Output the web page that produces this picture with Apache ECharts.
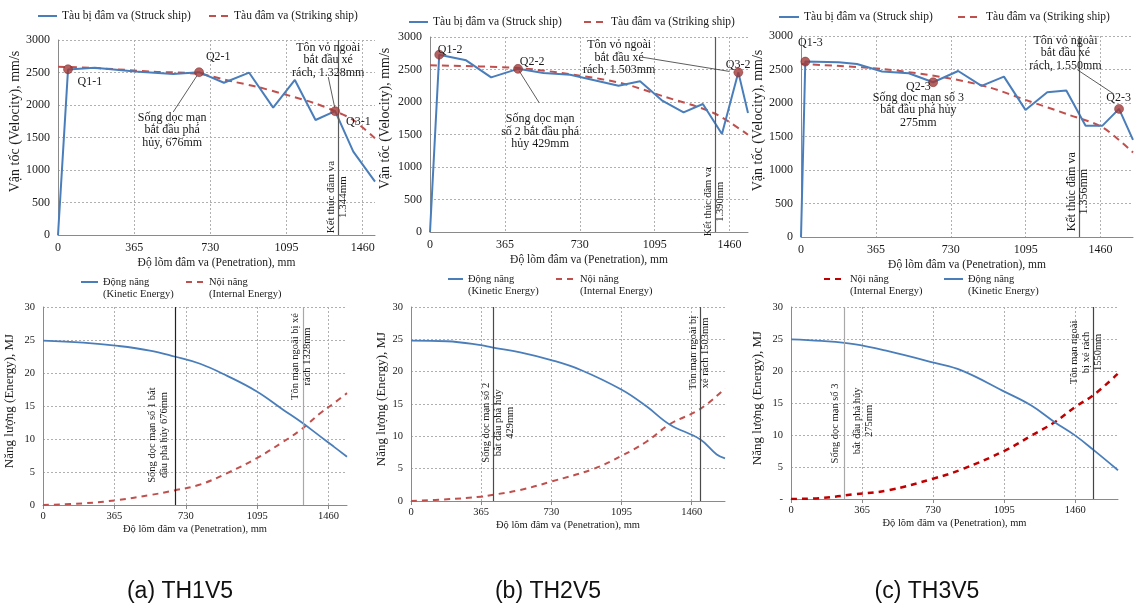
<!DOCTYPE html>
<html>
<head>
<meta charset="utf-8">
<script src="https://cdn.jsdelivr.net/npm/echarts/dist/echarts.min.js"></script>
<style>
  html, body { margin: 0; padding: 0; background: #fff; }
  #chart { width: 1134px; height: 610px; }
</style>
</head>
<body>
<div id="chart"></div>
<script>
// ---------------- data ----------------
// Penetration tick labels (mm)
const penetrationTicks = [0, 365, 730, 1095, 1460];

// Velocity (mm/s) vs penetration (mm): struck ship and striking ship
const struckTH1 = [[0,0],[48,2545],[176,2574],[370,2515],[552,2477],[676,2505],[795,2343],[916,2497],[1031,1959],[1135,2385],[1234,1769],[1328,1905],[1415,1282],[1519,820]];
const strikingTH1 = [[0,2590],[200,2564],[456,2513],[676,2477],[840,2359],[951,2282],[1079,2170],[1223,2035],[1328,1905],[1415,1769],[1519,1487]];
const keyPointsTH1 = [[48,2550],[676,2505],[1328,1905]];

const struckTH2 = [[0,0],[45,2728],[176,2641],[298,2379],[429,2510],[553,2446],[683,2420],[919,2251],[1024,2318],[1130,2026],[1236,1841],[1330,1969],[1423,1508],[1503,2456],[1550,1831]];
const strikingTH2 = [[0,2564],[429,2523],[732,2405],[943,2282],[1138,2087],[1382,1831],[1550,1497]];
const keyPointsTH2 = [[45,2728],[429,2510],[1503,2456]];

const struckTH3 = [[0,0],[21,2618],[184,2608],[273,2583],[395,2469],[525,2444],[644,2310],[766,2478],[880,2255],[989,2394],[1094,1897],[1200,2161],[1293,2185],[1387,1659],[1468,1659],[1550,1912],[1618,1450]];
const strikingTH3 = [[0,2583],[395,2508],[720,2369],[915,2235],[1094,2046],[1306,1823],[1468,1639],[1618,1262]];
const keyPointsTH3 = [[21,2618],[644,2310],[1550,1912]];

// Energy (MJ) vs penetration (mm)
const kineticTH1 = [[0,24.9],[205,24.6],[384,24.1],[546,23.4],[671,22.5],[803,21.4],[939,19.6],[1093,17.2],[1229,14.4],[1318,12.6],[1417,10.4],[1486,8.85],[1554,7.3]];
const internalTH1 = [[0,0],[205,0.25],[384,0.76],[546,1.5],[671,2.2],[803,3.1],[939,4.8],[1093,7.1],[1229,9.6],[1318,11.4],[1417,13.9],[1486,15.4],[1554,16.95]];

const kineticTH2 = [[0,24.8],[187,24.7],[364,24.1],[421,23.75],[568,23.0],[729,21.8],[880,20.3],[1096,17.2],[1226,14.6],[1347,11.8],[1503,9.55],[1590,7.2],[1633,6.6]];
const internalTH2 = [[0,0],[187,0.26],[364,0.67],[421,0.93],[568,1.7],[729,3.0],[949,4.96],[1096,7.0],[1226,9.2],[1347,11.9],[1503,14.2],[1633,17.4]];

const kineticTH3 = [[0,24.95],[157,24.7],[323,24.2],[499,23.1],[733,21.3],[875,20.1],[1101,16.7],[1234,14.6],[1354,12.0],[1460,9.9],[1556,7.6],[1679,4.5]];
const internalTH3 = [[0,0],[157,0.16],[323,0.73],[499,1.35],[733,3.2],[875,4.6],[1101,7.6],[1234,9.9],[1354,12.0],[1460,14.4],[1556,16.3],[1679,19.6]];

// Event penetrations (mm)
const collisionEnd = [1344, 1390, 1356];
const girderFailure = [676, 429, 275];
const shellTearing = [1328, 1503, 1550];

// ---------------- styling ----------------
const SERIF = '"Liberation Serif", "Times New Roman", serif';
const SANS = '"Liberation Sans", Arial, sans-serif';
const BLUE = '#4a7ebb';
const RED = '#c0504d';
const DEEP_RED = '#c00000';
const MARKER = '#a13a37';
const GRID_DOT = '#b0b0b0';
const AXIS_GRAY = '#8a8a8a';
const INK = '#1a1a1a';

const STRUCK = 'Tàu bị đâm va (Struck ship)';
const STRIKING = 'Tàu đâm va (Striking ship)';
const KINETIC = 'Động năng\n(Kinetic Energy)';
const INTERNAL = 'Nội năng\n(Internal Energy)';
const INTERNAL_C = 'Nội năng\n(Internal Energy) ';

const X_NAME = 'Độ lõm đâm va (Penetration), mm';

const grids = [
  { left: 58, top: 40, width: 317, height: 195 },
  { left: 430, top: 37, width: 318, height: 195 },
  { left: 801, top: 36, width: 332, height: 201 },
  { left: 43, top: 307, width: 304, height: 198 },
  { left: 411, top: 307, width: 314, height: 194 },
  { left: 791, top: 307, width: 327, height: 192 }
];
const xMax = [1519, 1550, 1618, 1554, 1633, 1679];
const yNameGap = [33, 38, 36, 27, 23, 27];

const dotted = { type: [2, 2], color: GRID_DOT, width: 1 };

function xAxisFor(i) {
  const top = i < 3;
  const fs = top ? 12 : 10.5;
  return {
    type: 'value', gridIndex: i, min: 0, max: xMax[i], interval: penetrationTicks[1],
    axisLine: { show: true, lineStyle: { color: AXIS_GRAY } },
    axisTick: { show: !top, length: 4, lineStyle: { color: AXIS_GRAY } },
    axisLabel: {
      fontFamily: SERIF, fontSize: fs, color: INK, margin: top ? 7 : 6, showMaxLabel: false,
      formatter: v => penetrationTicks.indexOf(v) >= 0 ? String(v) : ''
    },
    splitLine: { show: true, showMinLine: false, showMaxLine: false, lineStyle: dotted },
    name: X_NAME, nameLocation: 'middle', nameGap: top ? 22 : 19,
    nameTextStyle: { fontFamily: SERIF, fontSize: top ? 11.5 : 10.5, color: INK }
  };
}

function yAxisFor(i) {
  const top = i < 3;
  const fs = top ? 12 : 10.5;
  return {
    type: 'value', gridIndex: i, min: 0, max: top ? 3000 : 30, interval: top ? 500 : 5,
    axisLine: { show: true, lineStyle: { color: AXIS_GRAY } },
    axisTick: { show: false },
    axisLabel: {
      fontFamily: SERIF, fontSize: fs, color: INK, margin: 8,
      formatter: v => (i === 5 && v === 0) ? '-' : String(v)
    },
    splitLine: { show: true, lineStyle: dotted },
    name: top ? 'Vận tốc (Velocity), mm/s' : 'Năng lượng (Energy), MJ',
    nameLocation: 'middle', nameGap: yNameGap[i], nameRotate: 90,
    nameTextStyle: { fontFamily: SERIF, fontSize: top ? 14 : 13, color: INK, padding: top ? [0, 0, 0, 32] : [0, 0, 0, 10] }
  };
}

function vline(value, color) {
  return { xAxis: value, lineStyle: { color: color, width: 1.2, type: 'solid' } };
}

function arrow(from, to) {
  return [{ coord: from }, { coord: to }];
}

const arrowsTop = [
  [arrow([552, 1892], [665, 2446]), arrow([1295, 2430], [1326, 1960])],
  [arrow([532, 1989], [434, 2481]), arrow([1039, 2687], [1460, 2470])],
  [arrow([1348, 2493], [1524, 2136])]
];

const velocitySets = [
  [struckTH1, strikingTH1, keyPointsTH1],
  [struckTH2, strikingTH2, keyPointsTH2],
  [struckTH3, strikingTH3, keyPointsTH3]
];
const energySets = [
  [kineticTH1, internalTH1],
  [kineticTH2, internalTH2],
  [kineticTH3, internalTH3]
];

const series = [];
velocitySets.forEach(([struck, striking, pts], i) => {
  series.push({
    type: 'line', name: STRUCK, xAxisIndex: i, yAxisIndex: i, data: struck,
    symbol: 'none', lineStyle: { color: BLUE, width: 2 }, itemStyle: { color: BLUE }, z: 3,
    markLine: {
      silent: true, symbol: 'none', label: { show: false }, animation: false,
      data: [vline(collisionEnd[i], '#5a5a5a')]
    }
  });
  series.push({
    type: 'line', name: STRIKING, xAxisIndex: i, yAxisIndex: i, data: striking,
    symbol: 'none', smooth: 0.3, lineStyle: { color: RED, width: 2, type: [7, 5] }, itemStyle: { color: RED }, z: 2,
    markLine: {
      silent: true, symbol: ['none', 'arrow'], symbolSize: [0, 7], label: { show: false }, animation: false,
      lineStyle: { color: '#333', width: 0.8, type: 'solid' },
      data: arrowsTop[i]
    }
  });
  series.push({
    type: 'scatter', xAxisIndex: i, yAxisIndex: i, data: pts, symbolSize: 9, z: 5,
    itemStyle: { color: MARKER, borderColor: '#7d2826', borderWidth: 0.6 }
  });
});

const energyLines = [
  [vline(girderFailure[0], '#222222'), vline(shellTearing[0], '#a8a8a8')],
  [vline(girderFailure[1], '#4a4a4a'), vline(shellTearing[1], '#4a4a4a')],
  [vline(girderFailure[2], '#a8a8a8'), vline(shellTearing[2], '#444444')]
];
energySets.forEach(([kin, inn], k) => {
  const i = k + 3;
  series.push({
    type: 'line', name: KINETIC, xAxisIndex: i, yAxisIndex: i, data: kin,
    symbol: 'none', smooth: 0.4, lineStyle: { color: BLUE, width: 1.8 }, itemStyle: { color: BLUE }, z: 3,
    markLine: { silent: true, symbol: 'none', label: { show: false }, animation: false, data: energyLines[k] }
  });
  const deep = k === 2;
  series.push({
    type: 'line', name: deep ? INTERNAL_C : INTERNAL, xAxisIndex: i, yAxisIndex: i, data: inn,
    symbol: 'none', smooth: 0.4,
    lineStyle: { color: deep ? DEEP_RED : RED, width: deep ? 2.5 : 2, type: [6, 5] },
    itemStyle: { color: deep ? DEEP_RED : RED }, z: 2
  });
});

function legendItem(name, iconLeft, textLeft, centerY, fs, twoLine) {
  const h = 10;
  return {
    left: iconLeft, top: twoLine ? centerY - 18 : centerY - h / 2, orient: 'horizontal', padding: 0,
    itemWidth: textLeft - 5 - iconLeft, itemHeight: h, itemGap: 0,
    selectedMode: false, data: [name],
    itemStyle: { opacity: 0 },
    formatter: twoLine ? (n => ' \n' + n) : (n => n),
    textStyle: Object.assign({ fontFamily: SERIF, fontSize: fs, color: INK },
      twoLine ? { lineHeight: 12 } : {})
  };
}

const legends = [
  legendItem(STRUCK, 37, 61, 15, 11.5, false),
  legendItem(STRIKING, 208, 233, 15, 11.5, false),
  legendItem(STRUCK, 408, 432, 21, 11.5, false),
  legendItem(STRIKING, 583, 610, 21, 11.5, false),
  legendItem(STRUCK, 778, 803, 16, 11.5, false),
  legendItem(STRIKING, 957, 985, 16, 11.5, false),
  legendItem(KINETIC, 80, 102, 282, 10.5, true),
  legendItem(INTERNAL, 185, 208, 282, 10.5, true),
  legendItem(KINETIC, 447, 467, 279, 10.5, true),
  legendItem(INTERNAL, 555, 579, 279, 10.5, true),
  legendItem(INTERNAL_C, 823, 849, 279, 10.5, true),
  legendItem(KINETIC, 943, 967, 279, 10.5, true)
];

const chart = echarts.init(document.getElementById('chart'), null, { renderer: 'canvas' });
chart.setOption({
  animation: false,
  backgroundColor: '#ffffff',
  grid: grids.map(g => Object.assign({ containLabel: false }, g)),
  xAxis: grids.map((_, i) => xAxisFor(i)),
  yAxis: grids.map((_, i) => yAxisFor(i)),
  legend: legends,
  series: series
});

// ---------------- annotations ----------------
// [grid, text, x, y, rotated, fontSize]
const notes = [
  [0, 'Q1-1', 153, 2353, false, 12],
  [0, 'Q2-1', 768, 2738, false, 12],
  [0, 'Sống dọc mạn\nbắt đầu phá\nhủy, 676mm', 547, 1615, false, 12],
  [0, 'Tôn vỏ ngoài\nbắt đầu xé\nrách, 1.328mm', 1295, 2692, false, 12],
  [0, 'Q3-1', 1439, 1738, false, 12],
  [0, 'Kết thúc đâm va\n1.344mm', 1336, 584, true, 11],
  [1, 'Q1-2', 98, 2804, false, 12],
  [1, 'Q2-2', 498, 2620, false, 12],
  [1, 'Sống dọc mạn\nsố 2 bắt đầu phá\nhủy 429mm', 537, 1543, false, 12],
  [1, 'Tôn vỏ ngoài\nbắt đầu xé\nrách, 1.503mm', 922, 2687, false, 12],
  [1, 'Q3-2', 1502, 2574, false, 12],
  [1, 'Kết thúc đâm va\n1.390mm', 1385, 465, true, 10.5],
  [2, 'Q1-3', 46, 2896, false, 12],
  [2, 'Q2-3', 572, 2235, false, 12],
  [2, 'Sống dọc mạn số 3\nbắt đầu phá hủy\n275mm', 572, 1893, false, 12],
  [2, 'Tôn vỏ ngoài\nbắt đầu xé\nrách, 1.550mm', 1289, 2746, false, 12],
  [2, 'Q2-3', 1548, 2075, false, 12],
  [2, 'Kết thúc đâm va\n1.356mm', 1350, 675, true, 12],
  [3, 'Sống dọc mạn số 1 bắt\nđầu phá hủy 676mm', 590, 10.6, true, 10.5],
  [3, 'Tôn mạn ngoài bị xé\nrách 1328mm', 1320, 22.5, true, 10.5],
  [4, 'Sống dọc mạn số 2\nbắt đầu phá hủy\n429mm', 454, 12.1, true, 10.5],
  [4, 'Tôn mạn ngoài bị\nxé rách 1503mm', 1499, 22.9, true, 10.5],
  [5, 'Sống dọc mạn số 3', 229, 11.8, true, 10.5],
  [5, 'bắt đầu phá hủy\n275mm', 372, 12.2, true, 10.5],
  [5, 'Tôn mạn ngoài\nbị xé rách\n1550mm', 1518, 22.9, true, 10.5]
];

const captions = [['(a) TH1V5', 180], ['(b) TH2V5', 548], ['(c) TH3V5', 927]];

const graphics = notes.map(([g, text, x, y, rot, fs]) => {
  const p = chart.convertToPixel({ gridIndex: g }, [x, y]);
  return {
    type: 'text', x: p[0], y: p[1], rotation: rot ? Math.PI / 2 : 0, silent: true, z: 20,
    style: {
      text: text, fill: INK, fontFamily: SERIF, fontSize: fs, lineHeight: rot ? 12 : 12.5,
      align: 'center', verticalAlign: 'middle'
    }
  };
}).concat(captions.map(([t, cx]) => ({
  type: 'text', x: cx, y: 592, silent: true,
  style: { text: t, fill: '#111', fontFamily: SANS, fontSize: 23, align: 'center', verticalAlign: 'middle' }
})));

chart.setOption({ graphic: graphics });
</script>
</body>
</html>
